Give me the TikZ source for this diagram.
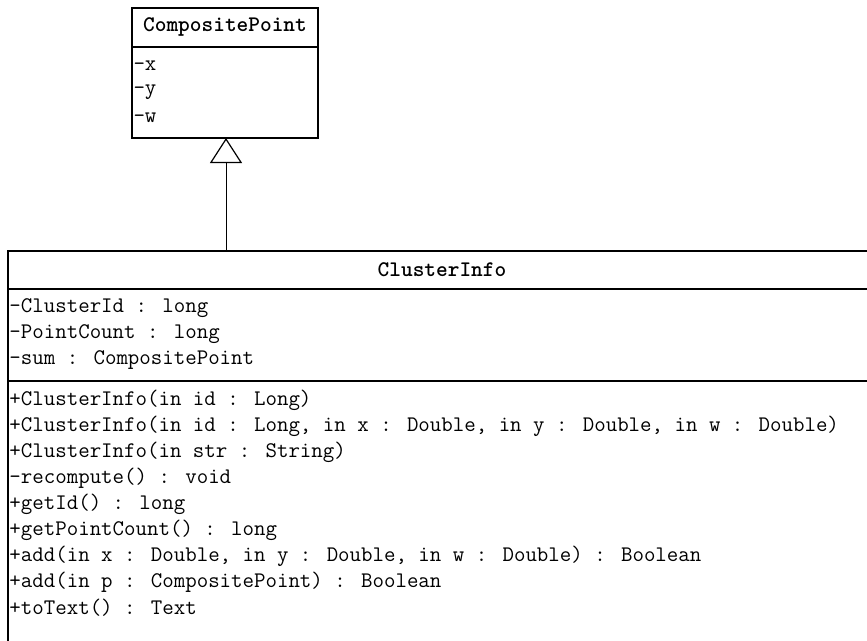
\documentclass[tikz,border=0pt]{standalone}
\usetikzlibrary{arrows.meta}
\tikzset{every picture/.style={line width=0.75pt}}
\begin{document}
\begin{tikzpicture}[x=0.75pt,y=0.75pt,yscale=-1,xscale=1,
    member/.style={anchor=west,inner sep=0.75pt,font=\fontsize{16.7}{20}\selectfont\ttfamily},
    classname/.style={inner sep=0.75pt,font=\fontsize{16.7}{20}\selectfont\ttfamily\bfseries},
    classbox/.style={line width=1.3pt}]
    \useasboundingbox (0,0) rectangle (867,640);
    \clip (0,0) rectangle (867,640);

    %Shape: Rectangle [CompositePoint]
    \draw [classbox] (132,8) -- (318,8) -- (318,138) -- (132,138) -- cycle ;
    \draw [classbox] (132,47) -- (318,47) ;
    %Shape: Rectangle [ClusterInfo]
    \draw [classbox] (8,660) -- (8,251) -- (876,251) -- (876,660) ;
    \draw [classbox] (8,289) -- (876,289) ;
    \draw [classbox] (8,381) -- (876,381) ;

    % Text Node
    \node (cpname) at (225,27) [classname] {CompositePoint};
    \node (cpx) at (132,66) [member] {-x};
    \node (cpy) at (132,92) [member] {-y};
    \node (cpw) at (132,118) [member] {-w};

    % Text Node
    \node (ciname) at (442,270) [classname] {ClusterInfo};
    \node (ciid) at (8,308) [member] {-ClusterId : long};
    \node (cicount) at (8,334) [member] {-PointCount : long};
    \node (cisum) at (8,360) [member] {-sum : CompositePoint};
    \node (cinew) at (8,400) [member] {+ClusterInfo(in id : Long)};
    \node (cinewxyw) at (8,426) [member] {+ClusterInfo(in id : Long, in x : Double, in y : Double, in w : Double)};
    \node (cinewstr) at (8,452) [member] {+ClusterInfo(in str : String)};
    \node (cirecomp) at (8,478) [member] {-recompute() : void};
    \node (cigetid) at (8,504) [member] {+getId() : long};
    \node (cigetcount) at (8,530) [member] {+getPointCount() : long};
    \node (ciaddxyw) at (8,556) [member] {+add(in x : Double, in y : Double, in w : Double) : Boolean};
    \node (ciaddp) at (8,582) [member] {+add(in p : CompositePoint) : Boolean};
    \node (citext) at (8,608) [member] {+toText() : Text};

    %Straight Lines [inheritance]
    \coordinate (cpbottom) at (226,138);
    \coordinate (citop) at (226,251);
    \draw [-{Triangle[open,length=18.75pt,width=24pt,line width=0.9pt]}] (citop) -- (cpbottom) ;

\end{tikzpicture}
\end{document}
